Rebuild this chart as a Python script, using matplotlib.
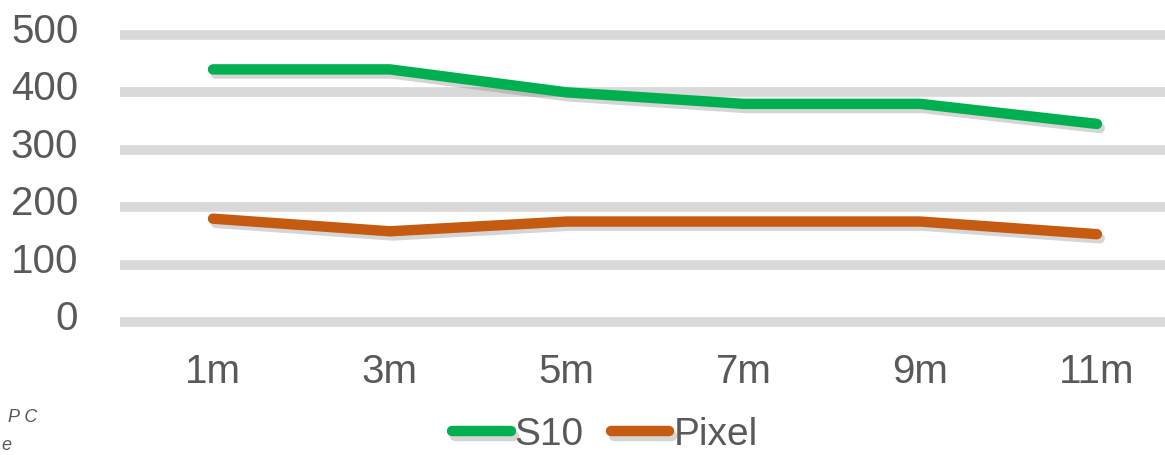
import matplotlib.pyplot as plt
import matplotlib.patheffects as pe
from matplotlib.transforms import ScaledTranslation

plt.rcParams['font.family'] = ['Liberation Sans', 'DejaVu Sans']

months = ["1m", "3m", "5m", "7m", "9m", "11m"]
s10 = [440, 440, 400, 380, 380, 345]
pixel = [180, 158, 175, 175, 175, 153]
yticks = [0, 100, 200, 300, 400, 500]

grey = "#595959"
fig = plt.figure(figsize=(11.65, 4.55), dpi=100)
W, H = 1165, 455
ax = fig.add_axes([120 / W, (H - 335) / H, 1 - 120 / W, (335 - 20) / H])

shadow = [pe.SimpleLineShadow(offset=(2, -3), shadow_color="#777777", alpha=0.3), pe.Normal()]
x = range(len(months))
ax.plot(x, s10, color="#00B050", lw=7.5, solid_capstyle="round", solid_joinstyle="round",
        label="S10", path_effects=shadow, zorder=3)
ax.plot(x, pixel, color="#C55A11", lw=7.5, solid_capstyle="round", solid_joinstyle="round",
        label="Pixel", path_effects=shadow, zorder=3)

ax.set_xlim(-0.526, 5.385)
ax.set_ylim(-22.6, 526)
ax.set_yticks(yticks)
ax.set_xticks(list(x))
ax.set_xticklabels(months)
ax.grid(axis="y", color="#D9D9D9", lw=7)
ax.set_axisbelow(True)
for s in ax.spines.values():
    s.set_visible(False)
ax.tick_params(length=0, labelsize=29, labelcolor=grey)
ax.tick_params(axis="y", pad=30)
ax.tick_params(axis="x", pad=13)
for lbl in ax.get_yticklabels():
    lbl.set_transform(lbl.get_transform() + ScaledTranslation(0, 5 / 72, fig.dpi_scale_trans))

fig.legend(loc="center", bbox_to_anchor=(605 / W, 1 - 435 / H), ncol=2, frameon=False,
           fontsize=28, labelcolor=grey, handlelength=1.5, handletextpad=0.1,
           columnspacing=0.7, borderaxespad=0, borderpad=0)

fig.text(8 / W, 1 - 417 / H, "P C", fontsize=13, style="italic", color=grey, va="center")
fig.text(1 / W, 1 - 446 / H, "e", fontsize=13, style="italic", color=grey, va="center")

fig.savefig("out.png", dpi=100)
